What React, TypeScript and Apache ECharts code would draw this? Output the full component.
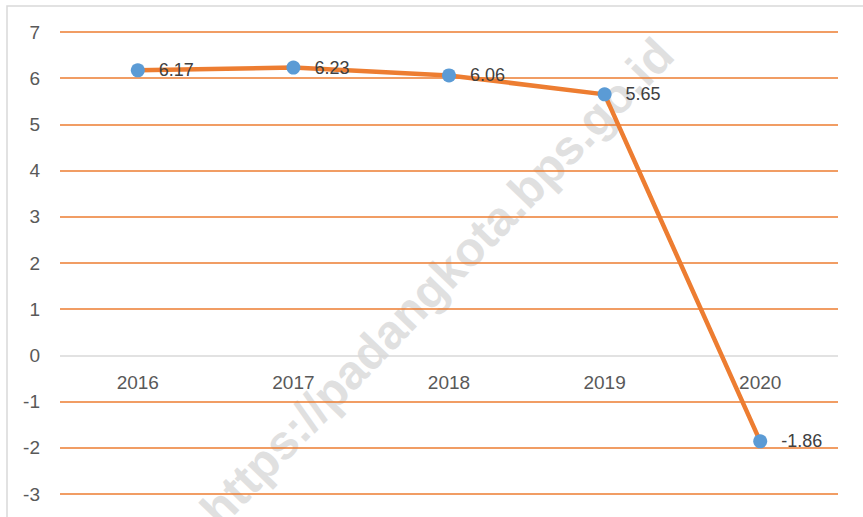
import React, { useEffect, useRef } from "react";
import * as echarts from "echarts";

const categories = ["2016", "2017", "2018", "2019", "2020"];
const values = [6.17, 6.23, 6.06, 5.65, -1.86];
const yTicks = [-3, -2, -1, 0, 1, 2, 3, 4, 5, 6, 7];
const watermarkText = "https://padangkota.bps.go.id";

export default function App() {
  const ref = useRef<HTMLDivElement>(null);
  useEffect(() => {
    if (!ref.current) return;
    const chart = echarts.init(ref.current, null, { renderer: "svg" });
    const gridColors = yTicks.map((t) => (t === 0 ? "#D9D9D9" : "#ED7D31"));
    const top = 32;
    const bottom = 23;
    const plotH = 517 - top - bottom;
    const yMin = yTicks[0];
    const yMax = yTicks[yTicks.length - 1];
    const zeroOffset = -((0 - yMin) / (yMax - yMin)) * plotH;
    chart.setOption({
      animation: false,
      backgroundColor: "#ffffff",
      textStyle: { fontFamily: "Liberation Sans" },
      grid: {
        left: 60,
        right: 25,
        top,
        bottom,
        containLabel: false,
        outerBoundsMode: "none",
      },
      xAxis: {
        type: "category",
        data: categories,
        boundaryGap: true,
        position: "bottom",
        offset: zeroOffset,
        axisLine: { show: false, onZero: false },
        axisTick: { show: false },
        axisLabel: { color: "#595959", fontSize: 19, margin: 18 },
        splitLine: { show: false },
        z: 3,
      },
      yAxis: {
        type: "value",
        min: yMin,
        max: yMax,
        interval: 1,
        axisLine: { show: false },
        axisTick: { show: false },
        axisLabel: { color: "#595959", fontSize: 19, margin: 20 },
        splitLine: { show: true, lineStyle: { color: gridColors, width: 1.5 } },
      },
      graphic: [
        {
          type: "rect",
          shape: { x: 7, y: 6, width: 900, height: 600 },
          style: { fill: "none", stroke: "#D9D9D9", lineWidth: 1.5 },
          silent: true,
          z: -10,
        },
        {
          type: "text",
          x: 437,
          y: 282,
          rotation: (46 * Math.PI) / 180,
          style: {
            text: watermarkText,
            fontFamily: "Liberation Sans",
            fontWeight: "bold",
            fontSize: 48,
            fill: "#E0E0E0",
            align: "center",
            verticalAlign: "middle",
          },
          silent: true,
          z: -5,
        },
      ],
      series: [
        {
          type: "line",
          data: values,
          symbol: "circle",
          symbolSize: 14,
          lineStyle: { color: "#ED7D31", width: 4.5 },
          itemStyle: { color: "#5B9BD5" },
          label: {
            show: true,
            position: "right",
            distance: 14,
            color: "#404040",
            fontSize: 18,
            formatter: (p: any) => p.value.toFixed(2),
          },
          z: 5,
        },
      ],
    });
    return () => chart.dispose();
  }, []);
  return (
    <div
      ref={ref}
      style={{ position: "fixed", left: 0, top: 0, width: 863, height: 517 }}
    />
  );
}
